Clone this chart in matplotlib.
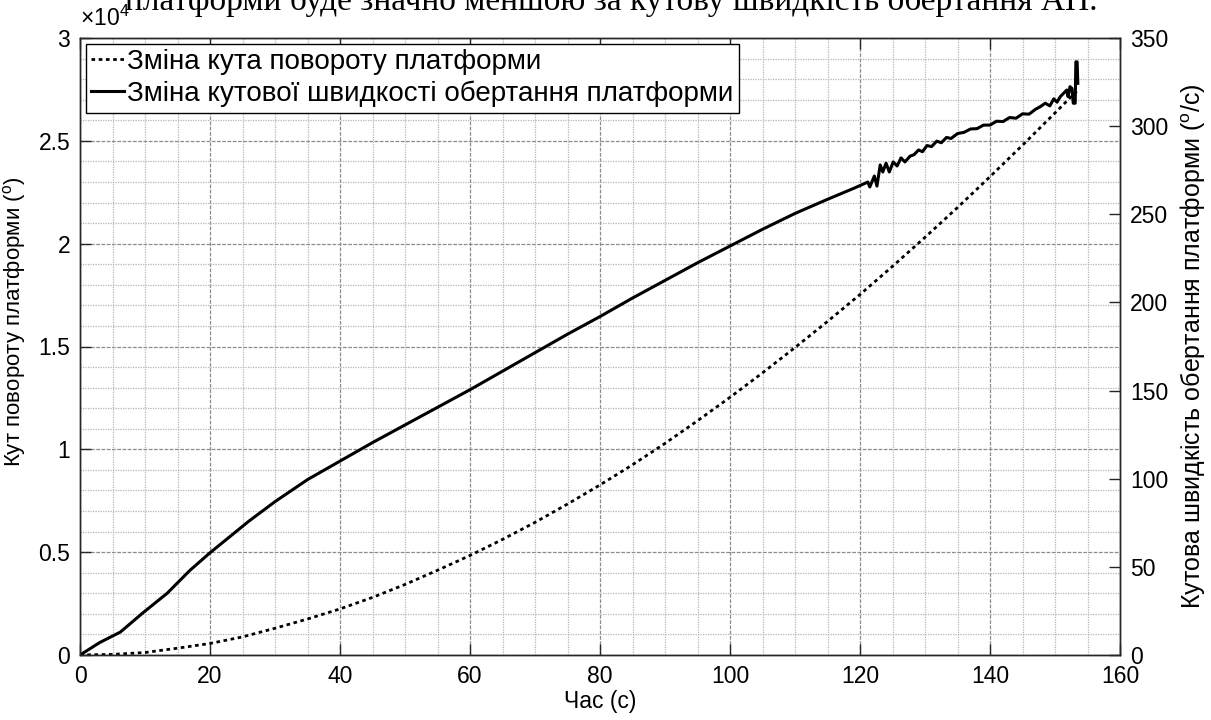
import numpy as np
import matplotlib
matplotlib.use("Agg")
import matplotlib.pyplot as plt
from matplotlib.ticker import MultipleLocator, FuncFormatter

plt.rcParams['font.family'] = ['Liberation Sans', 'DejaVu Sans']
plt.rcParams['mathtext.fontset'] = 'custom'
plt.rcParams['mathtext.rm'] = 'Liberation Sans'
plt.rcParams['mathtext.it'] = 'Liberation Sans:italic'

# кут повороту платформи (градуси)
t_angle = [0, 5, 10, 15, 20, 25, 30, 35, 40, 45, 50, 55, 60, 65, 70, 75, 80, 85, 90,
           95, 100, 105, 110, 115, 120, 125, 130, 135, 140, 145, 150, 153.5]
angle = [0, 30, 120, 330, 560, 880, 1300, 1750, 2240, 2800, 3430, 4120, 4840, 5620, 6450,
         7340, 8270, 9250, 10290, 11390, 12530, 13720, 14950, 16220, 17530, 18900,
         20310, 21760, 23260, 24790, 26360, 27470]

# кутова швидкість (град/с)
t_speed = [0, 3, 6.2, 9.7, 13.4, 16.9, 20, 23, 26, 30, 35, 40, 45, 50, 55, 60, 65, 70,
           75, 80, 85, 90, 95, 100, 105, 110, 115, 119.2, 121.2, 121.5, 122.2, 122.6, 123.1,
           123.5, 124.0, 124.5, 125.1, 125.7, 126.3, 126.9, 127.7, 128.3, 129.0, 129.6,
           130.3, 131.0, 131.8, 132.5, 133.3, 134.0, 135.0, 136.0, 137.0, 138.0, 139.0,
           140.0, 141.0, 142.0, 143.0, 144.0, 145.0, 146.0, 147.0, 147.7, 148.5, 149.2,
           149.8, 150.3, 150.8, 151.3, 151.8, 152.0, 152.3, 152.6, 152.8, 153.1, 153.2,
           153.4, 153.5]
speed = [0, 7, 13, 24, 35, 48, 58, 67, 76, 87, 99.5, 110, 120.5, 130.5, 140.5, 150.5, 161,
         171.5, 182, 192, 202.5, 212.5, 222.5, 232, 241.5, 250.5, 258.5, 265, 268.3, 265.5,
         271.7, 266, 278, 274, 279, 274, 279.7, 277.4, 282, 279.7, 283, 283.8, 286.5, 285.5,
         289, 288.4, 291.5, 290.6, 293.6, 293, 295.8, 296.5, 298.4, 298.6, 300.6, 300.6,
         302.8, 302.6, 304.9, 304.5, 307, 306.8, 309.6, 311, 313, 311.5, 315.5, 313.6, 316.7,
         318.6, 320.5, 316.7, 322.4, 321.4, 313, 313, 336.5, 336.5, 324.3]

fig = plt.figure(figsize=(12.11, 7.2), dpi=100)
ax = fig.add_axes([0.0661, 0.0903, 0.8588, 0.8569])
ax2 = ax.twinx()

l1, = ax.plot(t_angle, angle, color='black', lw=2.0, linestyle=(0, (1.3, 1.3)),
              label='Зміна кута повороту платформи')
l2, = ax2.plot(t_speed, speed, color='black', lw=2.2,
               label='Зміна кутової швидкості обертання платформи')

ax.set_xlim(0, 160)
ax.set_ylim(0, 30000)
ax2.set_ylim(0, 350)

ax.xaxis.set_major_locator(MultipleLocator(20))
ax.xaxis.set_minor_locator(MultipleLocator(5))
ax.yaxis.set_major_locator(MultipleLocator(5000))
ax.yaxis.set_minor_locator(MultipleLocator(1000))
ax.yaxis.set_major_formatter(FuncFormatter(lambda v, p: '%g' % (v / 1e4)))
ax2.yaxis.set_major_locator(MultipleLocator(50))

ax.grid(which='major', color='#8c8c8c', linestyle=(0, (3, 1.2)), lw=0.9)
ax.grid(which='minor', color='#b5b5b5', linestyle=(0, (1, 1)), lw=0.9)
ax.set_axisbelow(True)

spine_c = '#262626'
for a in (ax, ax2):
    for s in a.spines.values():
        s.set_color(spine_c)
        s.set_linewidth(1.0)
ax.tick_params(which='major', direction='in', length=8, width=1, top=True, right=False,
               labelsize=16.5, colors=spine_c, pad=7)
ax.tick_params(which='minor', length=0)
ax2.tick_params(which='major', direction='in', length=8, width=1, labelsize=16.5,
                colors=spine_c, pad=7)
for lab in ax.get_xticklabels() + ax.get_yticklabels() + ax2.get_yticklabels():
    lab.set_color('black')

ax.set_xlabel('Час (с)', fontsize=16.5, labelpad=2)
ax.set_ylabel('Кут повороту платформи ($^{\\mathrm{o}}$)', fontsize=16)
ax.yaxis.set_label_coords(-0.05, 0.54)
ax2.set_ylabel('Кутова швидкість обертання платформи ($^{\\mathrm{o}}$/с)', fontsize=18,
               labelpad=7)

ax.text(0.0, 1.012, '$\\times10^{4}$', transform=ax.transAxes, fontsize=16.5,
        ha='left', va='bottom')

leg = ax2.legend(handles=[l1, l2], loc='upper left', fontsize=20, frameon=True,
                 fancybox=False, edgecolor='black', framealpha=1, handlelength=1.2,
                 handletextpad=0.1, borderpad=0.2, labelspacing=0.2,
                 borderaxespad=0.2)
leg.get_frame().set_linewidth(1.0)

fig.text(0.103, 0.986, 'платформи буде значно меншою за кутову швидкість обертання АП.',
         fontsize=24, family='Liberation Serif', ha='left', va='baseline')

fig.savefig('out.png', dpi=100)
